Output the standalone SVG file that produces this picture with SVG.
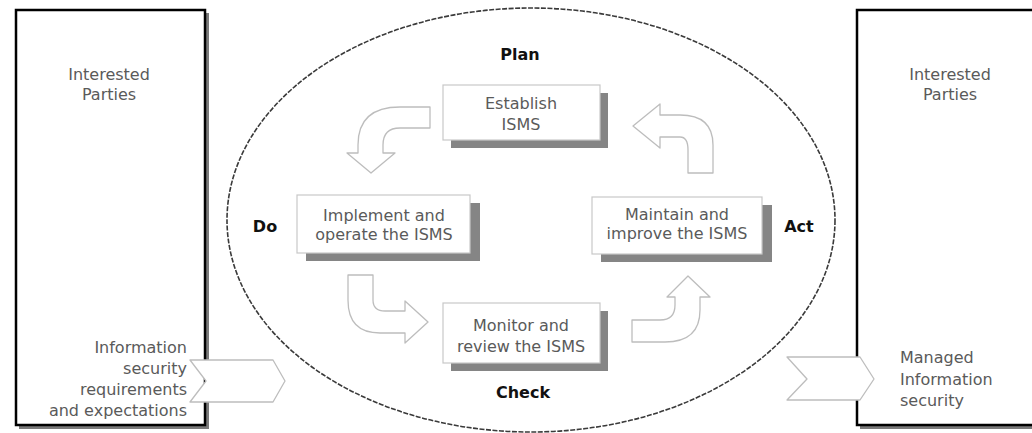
<svg xmlns="http://www.w3.org/2000/svg" width="1032" height="433" viewBox="0 0 1032 433">
<style>
.bg{fill:#ffffff}
.party{fill:#ffffff;stroke:#000000;stroke-width:2.5}
.pshadow{fill:#7a7a7a}
.step{fill:#ffffff;stroke:#c8c8c8;stroke-width:1.2}
.sshadow{fill:#858585}
.txt{font-family:"DejaVu Sans",sans-serif;font-size:16px;fill:#5a5a5a;text-anchor:middle}
.phase{font-family:"DejaVu Sans",sans-serif;font-size:16px;font-weight:bold;fill:#111111;text-anchor:middle}
.cyc{fill:#ffffff;stroke:#bdbdbd;stroke-width:1.3;stroke-linejoin:round}
.ell{fill:none;stroke:#3a3a3a;stroke-width:1.6;stroke-dasharray:5 1.5}
</style>
<rect class="bg" x="0" y="0" width="1032" height="433"/>

<g id="left-parties">
  <rect class="pshadow" x="19" y="13" width="190" height="416"/>
  <rect class="party" x="16" y="10" width="189" height="415"/>
  <text class="txt" x="109" y="80">Interested</text>
  <text class="txt" x="109" y="100">Parties</text>
</g>

<g id="right-parties">
  <rect class="pshadow" x="860" y="13" width="200" height="416"/>
  <rect class="party" x="857" y="10" width="200" height="415"/>
  <text class="txt" x="950" y="80">Interested</text>
  <text class="txt" x="950" y="100">Parties</text>
</g>

<g id="isms-cycle">
  <ellipse class="ell" cx="531" cy="220" rx="304" ry="212"/>
  <text class="phase" x="520" y="60">Plan</text>
  <text class="phase" x="265" y="232">Do</text>
  <text class="phase" x="799" y="232">Act</text>
  <text class="phase" x="523" y="398">Check</text>
</g>

<g id="establish">
  <rect class="sshadow" x="451" y="93" width="157" height="55"/>
  <rect class="step" x="443" y="85" width="157" height="55"/>
  <text class="txt" x="521" y="109">Establish</text>
  <text class="txt" x="521" y="130">ISMS</text>
</g>

<g id="implement">
  <rect class="sshadow" x="306" y="203" width="174" height="58"/>
  <rect class="step" x="297" y="195" width="173" height="58"/>
  <text class="txt" x="384" y="221">Implement and</text>
  <text class="txt" x="384" y="240">operate the ISMS</text>
</g>

<g id="maintain">
  <rect class="sshadow" x="601" y="205" width="171" height="57"/>
  <rect class="step" x="592" y="197" width="170" height="57"/>
  <text class="txt" x="677" y="220">Maintain and</text>
  <text class="txt" x="677" y="239">improve the ISMS</text>
</g>

<g id="monitor">
  <rect class="sshadow" x="451" y="311" width="157" height="60"/>
  <rect class="step" x="443" y="303" width="157" height="60"/>
  <text class="txt" x="521" y="331">Monitor and</text>
  <text class="txt" x="521" y="352">review the ISMS</text>
</g>

<g id="connectors">
  <path class="cyc" d="M430,107 L400,107 Q358,107 358,145 L358,153 L347,153 L371,173 L395,153 L383,153 L383,145 Q383,128 400,128 L430,128 Z"/>
  <path class="cyc" d="M688,173 L713,173 L713,145 Q713,115 680,115 L660,115 L660,104 L633,126 L660,148 L660,137 L680,137 Q688,137 688,150 Z"/>
  <path class="cyc" d="M348,275 L373,275 L373,300 Q373,311 385,311 L405,311 L405,301 L428,322 L405,343 L405,333 L380,333 Q348,333 348,300 Z"/>
  <path class="cyc" d="M632,320 L660,320 Q675,320 675,305 L675,297 L667,297 L688,276 L710,297 L700,297 L700,310 Q700,342 665,342 L632,342 Z"/>
  <path class="cyc" d="M190,360 L273,360 L285,381 L273,402 L190,402 L206,381 Z"/>
  <path class="cyc" d="M787,357 L860,357 L874,379 L860,400 L787,400 L807,379 Z"/>
</g>

<g id="flow-labels">
  <text class="txt" style="text-anchor:end" x="187" y="353">Information</text>
  <text class="txt" style="text-anchor:end" x="187" y="374">security</text>
  <text class="txt" style="text-anchor:end" x="187" y="395">requirements</text>
  <text class="txt" style="text-anchor:end" x="187" y="416">and expectations</text>
  <text class="txt" style="text-anchor:start" x="900" y="363">Managed</text>
  <text class="txt" style="text-anchor:start" x="900" y="385">Information</text>
  <text class="txt" style="text-anchor:start" x="900" y="406">security</text>
</g>
</svg>
